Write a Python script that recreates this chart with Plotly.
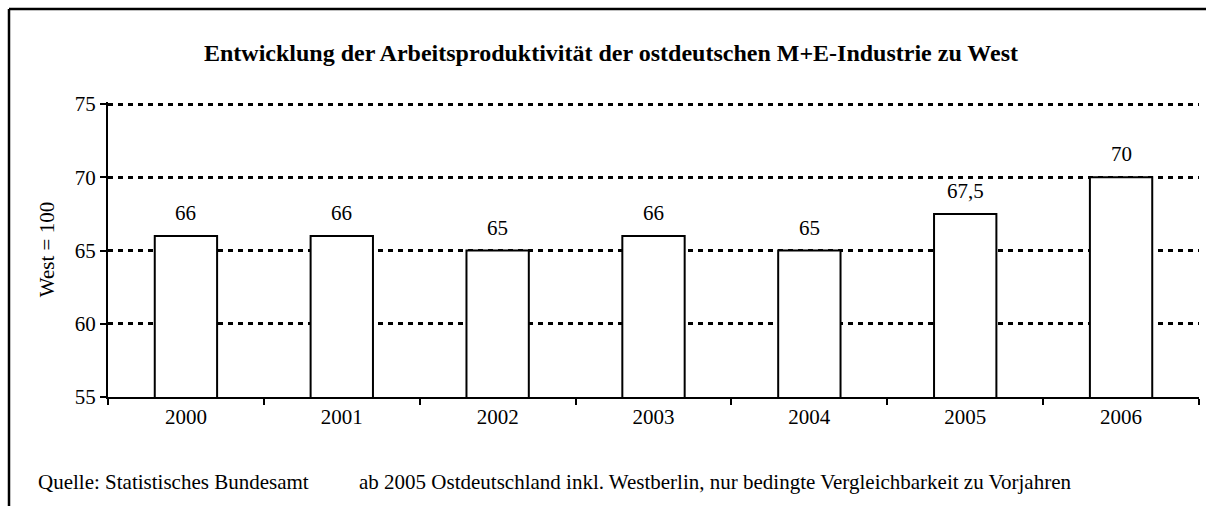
import plotly.graph_objects as go

years = ["2000", "2001", "2002", "2003", "2004", "2005", "2006"]
values = [66, 66, 65, 66, 65, 67.5, 70]
labels = ["66", "66", "65", "66", "65", "67,5", "70"]
y_ticks = [55, 60, 65, 70, 75]

title_text = "Entwicklung der Arbeitsproduktivität der ostdeutschen M+E-Industrie zu West"
y_title = "West = 100"
source_text = "Quelle: Statistisches Bundesamt"
note_text = "ab 2005 Ostdeutschland inkl. Westberlin, nur bedingte Vergleichbarkeit zu Vorjahren"

FONT = "Liberation Serif, Times New Roman, serif"

W, H = 1206, 506
L, R, T, B = 108, 7, 102, 109
PW, PH = W - L - R, H - T - B


def px_x(x):
    return (x - L) / PW


def px_y(y):
    return (H - B - y) / PH


fig = go.Figure()
fig.add_trace(go.Bar(
    x=years, y=values,
    marker=dict(color="white", line=dict(color="black", width=2)),
    width=0.4,
))

annotations = []
for i, (v, lab) in enumerate(zip(values, labels)):
    annotations.append(dict(x=i, y=v, xref="x", yref="y", text=lab, showarrow=False,
                            yanchor="middle", yshift=23,
                            font=dict(family=FONT, size=21, color="black")))
annotations.append(dict(x=px_x(611), y=px_y(53), xref="paper", yref="paper",
                        text="<b>" + title_text + "</b>", showarrow=False,
                        xanchor="center", yanchor="middle",
                        font=dict(family=FONT, size=24, color="black")))
annotations.append(dict(x=px_x(36), y=px_y(482), xref="paper", yref="paper", text=source_text,
                        showarrow=False, xanchor="left", yanchor="middle",
                        font=dict(family=FONT, size=21, color="black")))
annotations.append(dict(x=px_x(357), y=px_y(482), xref="paper", yref="paper", text=note_text,
                        showarrow=False, xanchor="left", yanchor="middle",
                        font=dict(family=FONT, size=21, color="black")))

frame_line = dict(color="black", width=2.5)
fig.update_layout(
    width=W, height=H,
    margin=dict(l=L, r=R, t=T, b=B),
    paper_bgcolor="white", plot_bgcolor="white",
    showlegend=False,
    font=dict(family=FONT, size=21, color="black"),
    annotations=annotations,
    shapes=[
        dict(type="line", xref="paper", yref="paper",
             x0=px_x(9), x1=px_x(1206), y0=px_y(9), y1=px_y(9), line=frame_line, layer="below"),
        dict(type="line", xref="paper", yref="paper",
             x0=px_x(9), x1=px_x(9), y0=px_y(9), y1=px_y(506), line=frame_line, layer="below"),
    ],
    xaxis=dict(
        type="category", showline=True, linecolor="black", linewidth=2,
        ticks="outside", ticklen=6, tickwidth=2, tickcolor="black", tickson="boundaries",
        showgrid=False, tickfont=dict(family=FONT, size=21), range=[-0.5, 6.5],
    ),
    yaxis=dict(
        range=[55, 75.14], tickvals=y_ticks, ticktext=[str(t) for t in y_ticks],
        showline=True, linecolor="black", linewidth=2,
        ticks="outside", ticklen=6, tickwidth=2, tickcolor="black",
        showgrid=True, gridcolor="black", gridwidth=3, griddash="5px,5px",
        zeroline=False, tickfont=dict(family=FONT, size=21),
        title=dict(text=y_title, font=dict(family=FONT, size=21), standoff=14),
    ),
)

fig.write_html("out.html", config={"displayModeBar": False},
               post_script="document.body.style.margin='0';document.body.style.overflow='hidden';")
